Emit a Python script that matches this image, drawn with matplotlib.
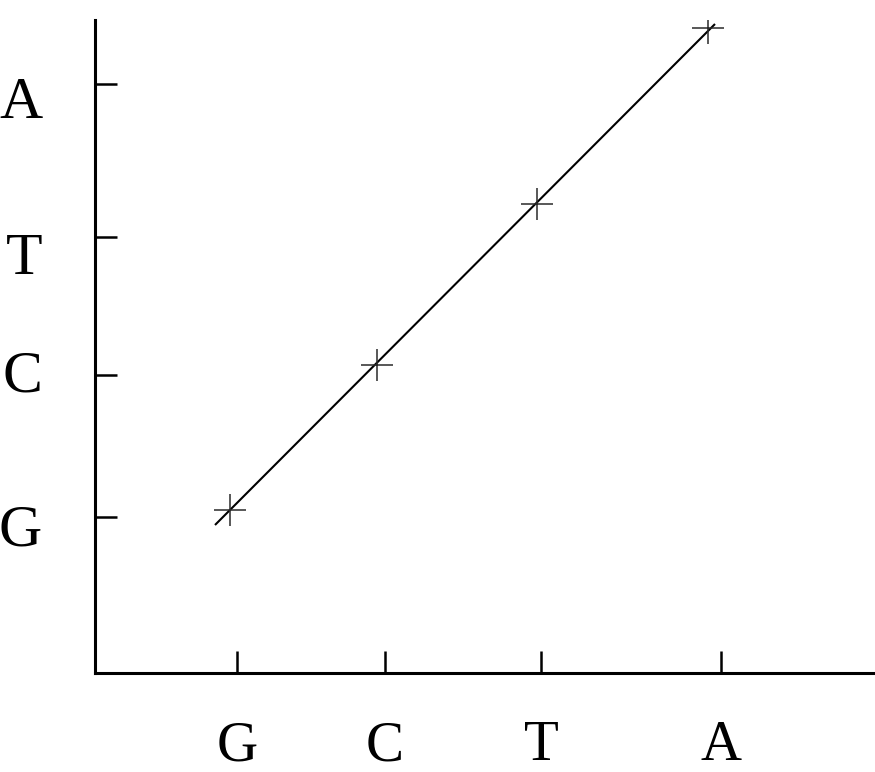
import numpy as np
import matplotlib
matplotlib.use("Agg")
import matplotlib.pyplot as plt
from matplotlib.font_manager import FontProperties
from matplotlib.ticker import FixedLocator, FixedFormatter, NullFormatter

# Bases along each axis and where their ticks sit
bases = ["G", "C", "T", "A"]
x_ticks = [142, 290, 446, 626]
y_ticks = [156, 298, 436, 589]
y_label_pos = [148, 302, 419, 575]

# Measured points and the fitted line through them
pt_x = [135, 282, 442, 613]
pt_y = [163, 308, 469, 645]
fit_x = [120, 620]
fit_y = [148, 649]

fig = plt.figure(figsize=(8.75, 7.72), dpi=100)
ax = fig.add_axes([95 / 875, 99 / 772, 780 / 875, 653 / 772])
ax.set_xlim(0, 780)
ax.set_ylim(0, 653)

ax.plot(fit_x, fit_y, color="black", lw=1.5, solid_capstyle="butt")
ax.plot(pt_x, pt_y, ls="none", marker="+", ms=23, mew=1.1, color="#2a2a2a")

for side in ["top", "right"]:
    ax.spines[side].set_visible(False)
for side in ["left", "bottom"]:
    ax.spines[side].set_linewidth(2.2)

# narrow serif if available, plain serif otherwise
serif = ["DejaVu Serif Condensed", "Liberation Serif"]
y_font = FontProperties(family=serif, size=43)
x_font = FontProperties(family=serif, size=41)

# x: letters sit right under their ticks
ax.xaxis.set_major_locator(FixedLocator(x_ticks))
ax.xaxis.set_major_formatter(FixedFormatter(bases))

# y: major ticks carry the marks, minor ticks carry the letters
ax.yaxis.set_major_locator(FixedLocator(y_ticks))
ax.yaxis.set_major_formatter(NullFormatter())
ax.yaxis.set_minor_locator(FixedLocator(y_label_pos))
ax.yaxis.set_minor_formatter(FixedFormatter(bases))
ax.yaxis.remove_overlapping_locs = False

ax.tick_params(which="major", direction="in", length=16, width=1.8, color="black")
ax.tick_params(axis="x", which="major", pad=34)
ax.tick_params(axis="y", which="minor", length=0, pad=38)
for lab in ax.get_xticklabels():
    lab.set_fontproperties(x_font)
for lab in ax.get_yticklabels(minor=True):
    lab.set_fontproperties(y_font)

fig.savefig("out.png", dpi=100, facecolor="white")
